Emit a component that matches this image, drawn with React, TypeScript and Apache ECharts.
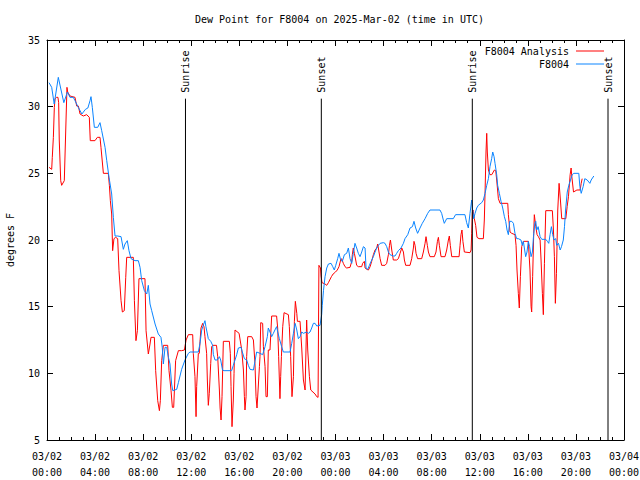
import React, { useEffect, useRef } from "react";
import * as echarts from "echarts";

const titleText = "Dew Point for F8004 on 2025-Mar-02 (time in UTC)";
const yAxisName = "degrees F";
const dayLabels = ["03/02", "03/03", "03/04"];

// hours since 2025-03-02 00:00 UTC
const obsHours = [
  0.17, 0.39, 0.6, 0.94, 1.4, 1.7, 1.91, 2.19, 2.33, 2.6, 2.9, 3.2, 3.4, 3.58, 3.66, 3.77, 3.94, 4.22, 4.41, 4.55,
  4.83, 4.97, 5.16, 5.38, 5.52, 5.66, 5.88, 6.16, 6.35, 6.49, 6.68, 6.82, 6.99, 7.32, 7.6, 7.74, 7.88, 8.1, 8.3, 8.43,
  8.57, 8.71, 8.99, 9.26, 9.48, 9.59, 9.68, 9.82, 9.96, 10.1, 10.23, 10.37, 10.46, 10.79, 10.93, 11.2, 11.48, 11.76, 11.9, 12.59,
  12.73, 12.87, 13.0, 13.14, 13.22, 13.42, 13.62, 13.78, 13.84, 13.98, 14.17, 14.34, 14.45, 14.6, 14.73, 15.36, 15.5, 15.64, 15.78, 15.92,
  16.14, 16.25, 16.42, 16.61, 16.75, 16.89, 17.17, 17.3, 17.44, 17.72, 17.94, 18.14, 18.33, 18.41, 18.55, 18.69, 18.83, 18.96, 19.1, 19.16,
  19.33, 19.52, 19.66, 20.22, 20.36, 20.5, 20.64, 20.78, 20.91, 21.05, 21.19, 21.33, 21.6, 21.74, 21.88, 22.02, 22.16, 22.3, 22.44, 22.71,
  22.85, 22.9, 23.0, 23.13, 23.27, 23.41, 23.63, 23.77, 23.9, 24.02, 24.18, 24.29, 24.43, 24.57, 24.74, 24.93, 25.07, 25.21, 25.35, 25.48,
  25.62, 25.76, 25.9, 26.04, 26.18, 26.32, 26.46, 26.54, 26.68, 26.82, 26.96, 27.15, 27.29, 27.43, 27.57, 27.71, 27.98, 28.12, 28.26, 28.4,
  28.53, 28.81, 28.95, 29.09, 29.23, 29.45, 29.65, 29.78, 30.01, 30.2, 30.4, 30.53, 30.67, 30.83, 31.03, 31.22, 31.45, 31.67, 31.86, 32.69,
  32.83, 32.97, 33.05, 33.25, 33.8, 33.99, 34.77, 34.91, 35.05, 35.19, 35.33, 35.39, 35.5, 35.61, 35.75, 35.88, 36.16, 36.3, 36.44, 36.58,
  36.72, 36.85, 36.99, 37.08, 37.19, 37.27, 37.41, 37.49, 37.63, 37.77, 37.91, 38.05, 38.16, 38.27, 38.38, 38.49, 38.66, 38.8, 38.93, 39.07,
  39.21, 39.43, 39.54, 39.63, 39.71, 39.82, 39.93, 40.04, 40.15, 40.27, 40.38, 40.47, 40.58, 40.66, 40.74, 40.86, 41.02, 41.16, 41.49, 41.63,
  41.74, 41.85, 41.96, 42.07, 42.18, 42.32, 42.4, 42.55, 42.69, 42.8, 42.95, 43.05, 43.14, 43.28, 43.41, 43.55, 43.69, 43.83, 44.24, 44.33,
  44.44, 44.6, 44.74, 44.94, 45.16, 45.27, 45.49,
];
const obsValues = [
  31.8, 31.45, 30.2, 32.2, 30.3, 31.1, 30.7, 30.7, 30.45, 29.95, 29.45, 29.8, 29.9, 30.45, 30.75, 29.95, 28.45, 28.45, 28.8, 28.2,
  26.95, 25.95, 24.7, 23.45, 21.7, 20.3, 20.3, 20.25, 19.3, 19.7, 19.95, 19.2, 18.6, 18.45, 18.45, 17.95, 16.95, 16.2, 15.95, 16.6,
  15.2, 14.7, 13.7, 12.95, 12.7, 11.95, 10.7, 11.95, 11.95, 11.2, 10.7, 9.2, 8.7, 8.8, 9.3, 10.3, 11.0, 11.5, 11.6, 11.6,
  12.25, 13.25, 13.6, 13.95, 13.5, 12.6, 12.4, 12.1, 11.4, 11.0, 11.0, 11.25, 11.0, 10.25, 10.2, 10.2, 10.6, 11.0, 11.4, 11.9,
  11.95, 11.6, 11.1, 11.0, 10.6, 10.3, 10.25, 10.9, 11.6, 11.5, 11.4, 12.0, 12.75, 13.4, 13.1, 12.75, 13.0, 13.25, 13.5, 13.25,
  12.6, 12.0, 11.6, 11.6, 12.25, 13.0, 13.75, 13.25, 12.6, 12.75, 13.1, 13.0, 13.1, 13.0, 13.1, 13.4, 13.75, 13.75, 13.55, 13.6,
  14.4, 15.1, 16.2, 17.25, 17.9, 18.2, 18.25, 18.0, 17.75, 18.1, 18.6, 19.0, 18.5, 18.4, 18.9, 19.0, 19.4, 18.6, 18.25, 19.0,
  19.75, 19.4, 19.0, 18.75, 19.1, 19.5, 19.4, 17.9, 17.8, 18.1, 18.4, 18.75, 19.1, 19.4, 19.6, 19.75, 19.8, 19.75, 19.5, 19.1,
  18.9, 18.8, 18.8, 19.0, 19.2, 19.4, 19.75, 20.1, 20.4, 20.9, 21.0, 21.4, 20.9, 20.5, 20.9, 21.25, 21.6, 22.0, 22.25, 22.25,
  22.0, 21.5, 21.25, 21.6, 21.6, 21.9, 21.9, 21.3, 20.9, 22.0, 23.0, 22.4, 21.6, 22.0, 22.4, 22.6, 22.8, 23.0, 23.5, 24.1,
  24.6, 25.5, 26.1, 26.6, 26.25, 25.75, 24.9, 24.1, 23.5, 22.9, 22.4, 21.75, 21.4, 20.75, 20.4, 21.4, 21.4, 21.25, 20.5, 20.1,
  20.1, 20.0, 19.6, 19.9, 19.4, 18.75, 19.1, 19.9, 19.5, 18.75, 19.1, 20.25, 21.25, 21.4, 20.75, 21.0, 20.25, 20.05, 20.05, 19.9,
  19.75, 20.4, 21.0, 20.4, 20.0, 20.1, 19.6, 19.75, 19.25, 19.5, 20.0, 21.0, 22.25, 23.6, 24.1, 24.5, 24.9, 25.0, 25.0, 24.0,
  23.5, 24.0, 24.6, 24.5, 24.25, 24.5, 24.8,
];

const anaHours = [
  0.17, 0.39, 0.44, 0.53, 0.61, 0.67, 0.8, 0.91, 0.97, 1.02, 1.14, 1.22, 1.44, 1.55, 1.66, 1.72, 1.91, 2.33, 2.47, 2.61,
  2.75, 3.02, 3.3, 3.52, 3.6, 3.99, 4.19, 4.41, 4.49, 4.69, 5.1, 5.19, 5.27, 5.38, 5.46, 5.57, 5.71, 5.88, 5.99, 6.16,
  6.27, 6.43, 6.55, 6.63, 7.18, 7.27, 7.4, 7.52, 7.65, 8.15, 8.24, 8.43, 8.57, 8.65, 8.93, 9.04, 9.21, 9.35, 9.43, 9.54,
  9.68, 10.04, 10.15, 10.32, 10.43, 10.54, 10.7, 10.93, 11.2, 11.43, 11.57, 11.76, 12.12, 12.17, 12.31, 12.4, 12.45, 12.59, 12.67, 12.73,
  12.81, 12.95, 13.06, 13.14, 13.28, 13.34, 13.42, 13.5, 13.62, 13.7, 13.78, 14.1, 14.2, 14.34, 14.4, 14.48, 14.56, 14.67, 15.17, 15.25,
  15.31, 15.39, 15.5, 15.56, 15.64, 15.98, 16.2, 16.34, 16.42, 16.47, 16.56, 16.61, 16.7, 17.03, 17.17, 17.3, 17.39, 17.47, 17.56, 17.67,
  17.72, 17.78, 17.94, 18.0, 18.14, 18.22, 18.33, 18.41, 18.55, 18.69, 19.1, 19.19, 19.27, 19.38, 19.44, 19.5, 19.61, 19.72, 20.08, 20.16,
  20.27, 20.38, 20.5, 20.58, 20.66, 20.78, 20.83, 21.05, 21.19, 21.33, 21.47, 21.6, 21.69, 21.74, 21.83, 21.94, 22.3, 22.44, 22.55, 22.58,
  22.62, 22.75, 22.8, 22.88, 23.13, 23.27, 23.41, 23.52, 23.66, 23.8, 24.0, 24.15, 24.29, 24.43, 24.51, 24.65, 24.79, 24.93, 25.21, 25.35,
  25.4, 25.48, 25.57, 25.68, 25.76, 25.9, 26.18, 26.26, 26.4, 26.46, 26.6, 26.74, 26.88, 27.01, 27.15, 27.29, 27.43, 27.51, 27.62, 27.71,
  27.84, 28.12, 28.26, 28.4, 28.49, 28.57, 28.68, 28.81, 29.09, 29.23, 29.37, 29.51, 29.65, 29.73, 29.84, 30.2, 30.34, 30.48, 30.53, 30.62,
  30.7, 30.83, 31.17, 31.31, 31.45, 31.53, 31.64, 31.73, 31.86, 32.22, 32.36, 32.48, 32.56, 32.64, 32.78, 33.11, 33.25, 33.39, 33.47, 33.55,
  33.67, 34.28, 34.36, 34.44, 34.52, 34.6, 34.72, 35.19, 35.28, 35.33, 35.39, 35.44, 35.55, 35.66, 35.77, 35.94, 36.3, 36.38, 36.44, 36.52,
  36.58, 36.63, 36.72, 36.85, 37.0, 37.22, 37.33, 37.41, 37.55, 37.69, 38.33, 38.38, 38.52, 38.66, 38.93, 39.02, 39.1, 39.21, 39.29, 39.38,
  39.49, 39.63, 40.04, 40.18, 40.27, 40.32, 40.4, 40.49, 40.54, 40.66, 40.77, 40.88, 41.02, 41.1, 41.21, 41.29, 41.38, 41.49, 42.04, 42.13,
  42.21, 42.29, 42.38, 42.49, 42.6, 42.71, 42.82, 43.16, 43.27, 43.38, 43.52, 43.6, 43.66, 43.8, 44.08, 44.35, 44.44, 44.52,
];
const anaValues = [
  25.45, 25.3, 26.2, 27.7, 29.95, 30.6, 30.7, 30.7, 30.3, 27.5, 24.45, 24.1, 24.45, 27.95, 31.45, 31.1, 30.8, 30.7, 30.05, 30.05,
  29.45, 29.3, 29.4, 29.2, 27.45, 27.45, 27.7, 27.7, 26.95, 25.0, 25.0, 24.1, 22.95, 21.95, 19.2, 20.1, 20.2, 20.1, 17.7, 15.45,
  14.6, 14.7, 17.2, 18.7, 18.7, 15.45, 12.45, 13.2, 17.1, 17.1, 13.2, 11.45, 12.2, 12.7, 12.7, 10.2, 7.95, 7.2, 7.95, 10.95,
  12.1, 12.1, 10.2, 8.7, 7.45, 7.45, 10.95, 11.7, 11.7, 11.75, 12.5, 12.9, 12.9, 11.5, 9.75, 6.75, 9.0, 11.5, 11.5, 12.4,
  13.4, 13.75, 13.5, 12.75, 11.5, 9.5, 7.6, 8.5, 10.75, 12.0, 12.1, 12.1, 11.25, 8.75, 7.4, 6.5, 8.25, 12.4, 12.4, 11.5,
  9.0, 6.0, 8.0, 10.0, 13.25, 13.0, 11.75, 10.25, 8.25, 7.25, 8.25, 11.25, 12.75, 12.75, 12.5, 10.75, 8.25, 7.4, 8.75, 10.5,
  11.25, 13.8, 13.75, 12.0, 10.5, 8.25, 8.25, 11.75, 11.75, 14.3, 14.3, 13.4, 11.25, 8.1, 9.75, 11.25, 13.5, 14.55, 14.4, 13.5,
  11.25, 8.25, 9.75, 13.9, 15.4, 14.5, 13.9, 13.9, 11.9, 9.5, 8.75, 14.0, 11.75, 11.75, 9.75, 8.75, 8.45, 8.25, 8.2, 12.5,
  18.1, 17.9, 17.3, 16.8, 16.7, 16.6, 16.8, 17.0, 17.25, 17.45, 17.6, 17.75, 18.0, 18.5, 18.6, 18.25, 18.0, 17.9, 17.95, 18.4,
  18.9, 19.4, 19.0, 18.5, 18.1, 18.0, 18.0, 18.25, 18.4, 17.9, 17.8, 17.75, 18.0, 18.4, 18.9, 19.25, 19.4, 19.7, 19.1, 18.6,
  18.1, 18.1, 18.25, 18.9, 19.6, 20.0, 19.25, 18.5, 18.5, 18.6, 19.0, 19.4, 19.1, 18.5, 18.1, 18.1, 18.6, 19.4, 19.9, 19.6,
  19.0, 18.6, 18.6, 19.1, 19.75, 20.25, 19.6, 19.1, 18.75, 18.75, 19.1, 19.9, 20.2, 19.6, 18.75, 18.75, 19.25, 20.0, 20.3, 19.6,
  18.75, 18.75, 19.6, 20.4, 20.75, 19.9, 19.1, 19.05, 19.25, 20.5, 22.1, 22.25, 21.6, 21.1, 20.2, 20.1, 20.1, 21.5, 23.5, 26.6,
  28.0, 26.6, 25.25, 24.9, 24.9, 25.25, 25.2, 24.5, 23.1, 22.75, 22.75, 21.9, 20.6, 20.5, 20.4, 19.6, 17.75, 16.0, 14.9, 17.25,
  19.5, 19.9, 19.9, 17.75, 15.0, 14.6, 17.25, 20.5, 21.9, 21.0, 20.4, 20.25, 20.0, 18.5, 16.0, 14.4, 18.25, 22.2, 22.2, 20.75,
  18.75, 15.25, 17.5, 22.25, 24.25, 23.0, 21.6, 21.6, 22.5, 23.25, 24.9, 25.4, 24.75, 23.6, 23.75, 23.75, 24.25, 24.6,
];

const eventHours = [11.52, 22.82, 35.38, 46.67];
const eventNames = ["Sunrise", "Sunset", "Sunrise", "Sunset"];
const eventLineTop = 30.6;

const FONT = '"DejaVu Sans Mono", "Liberation Mono", monospace';

export default function App() {
  const ref = useRef<HTMLDivElement>(null);
  useEffect(() => {
    if (!ref.current) return;
    const chart = echarts.init(ref.current, null, { renderer: "svg" });
    const fmtX = (v: number) => {
      const day = Math.floor(v / 24);
      const hr = Math.round(v - day * 24);
      return dayLabels[day] + "\n" + String(hr).padStart(2, "0") + ":00";
    };
    const axisCommon = {
      type: "value" as const,
      min: 0,
      max: 48,
      interval: 4,
      axisLine: { show: true, onZero: false, lineStyle: { color: "#000", width: 1 } },
      axisTick: { show: true, inside: true, length: 6, lineStyle: { color: "#000" } },
      minorTick: { show: true, splitNumber: 4, length: 3, lineStyle: { color: "#000" } },
      splitLine: { show: false },
    };
    const yCommon = {
      type: "value" as const,
      min: 5,
      max: 35,
      interval: 5,
      axisLine: { show: true, onZero: false, lineStyle: { color: "#000", width: 1 } },
      axisTick: { show: true, inside: true, length: 6, lineStyle: { color: "#000" } },
      splitLine: { show: false },
    };
    chart.setOption({
      animation: false,
      backgroundColor: "#fff",
      title: {
        text: titleText,
        left: 190,
        top: 9,
        textStyle: { fontFamily: FONT, fontSize: 10, fontWeight: "normal", color: "#000" },
      },
      grid: { left: 47, right: 16, top: 40, bottom: 40, containLabel: false, outerBoundsMode: "none" },
      legend: {
        orient: "vertical",
        right: 31,
        top: 41,
        align: "right",
        itemWidth: 28,
        itemHeight: 1,
        itemGap: 3,
        icon: "rect",
        textStyle: { fontFamily: FONT, fontSize: 10, color: "#000", padding: [0, 2, 0, 0] },
        data: ["F8004 Analysis", "F8004"],
      },
      xAxis: [
        {
          ...axisCommon,
          position: "bottom",
          axisLabel: {
            show: true,
            margin: 8,
            fontFamily: FONT,
            fontSize: 10,
            lineHeight: 16,
            color: "#000",
            formatter: fmtX,
          },
        },
        { ...axisCommon, position: "top", axisLabel: { show: false } },
      ],
      yAxis: [
        {
          ...yCommon,
          position: "left",
          name: yAxisName,
          nameLocation: "middle",
          nameRotate: 90,
          nameGap: 32,
          nameTextStyle: { fontFamily: FONT, fontSize: 10, color: "#000" },
          axisLabel: { show: true, margin: 7, fontFamily: FONT, fontSize: 10, color: "#000" },
        },
        { ...yCommon, position: "right", axisLabel: { show: false } },
      ],
      series: [
        {
          name: "F8004 Analysis",
          type: "line",
          symbol: "none",
          data: anaHours.map((h, i) => [h, anaValues[i]]),
          lineStyle: { color: "#ff0000", width: 1 },
          itemStyle: { color: "#ff0000" },
          z: 3,
        },
        {
          name: "F8004",
          type: "line",
          symbol: "none",
          data: obsHours.map((h, i) => [h, obsValues[i]]),
          lineStyle: { color: "#0a84ff", width: 1 },
          itemStyle: { color: "#0a84ff" },
          z: 4,
        },
        {
          name: "events",
          type: "custom",
          silent: true,
          z: 5,
          data: eventHours.map((h, i) => [h, eventLineTop, i]),
          renderItem: (params: any, api: any) => {
            const x = api.value(0);
            const idx = api.value(2);
            const p0 = api.coord([x, 5]);
            const p1 = api.coord([x, api.value(1)]);
            return {
              type: "group",
              children: [
                {
                  type: "line",
                  shape: { x1: p0[0], y1: p0[1], x2: p1[0], y2: p1[1] },
                  style: { stroke: "#000", lineWidth: 1 },
                },
                {
                  type: "text",
                  x: p1[0],
                  y: p1[1] - 6,
                  rotation: Math.PI / 2,
                  style: {
                    text: eventNames[idx],
                    fill: "#000",
                    font: '10px "DejaVu Sans Mono"',
                    align: "left",
                    verticalAlign: "middle",
                  },
                },
              ],
            };
          },
        },
      ],
    });
    return () => chart.dispose();
  }, []);
  return <div ref={ref} style={{ width: 640, height: 480, position: "absolute", left: 0, top: 0 }} />;
}
